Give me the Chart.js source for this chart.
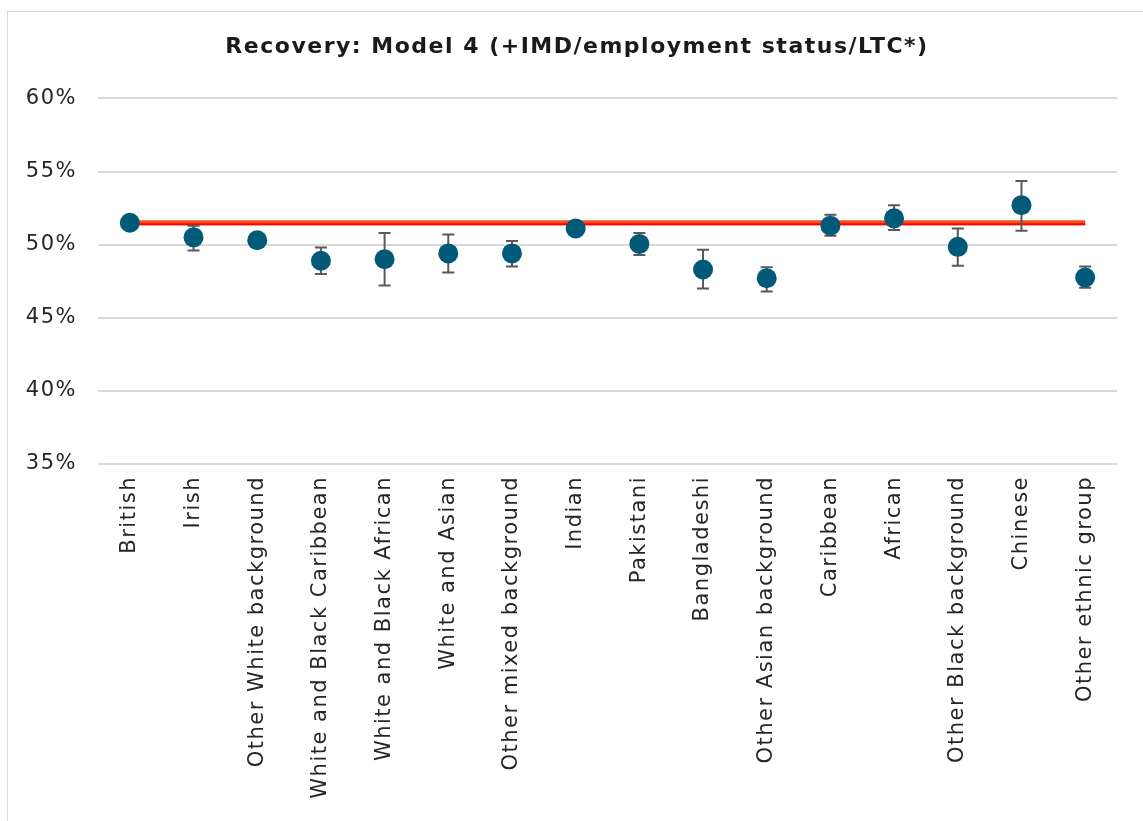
<!DOCTYPE html>
<html>
<head>
<meta charset="utf-8">
<script src="https://cdn.jsdelivr.net/npm/chart.js@4.4.0/dist/chart.umd.min.js"></script>
<style>
  html, body { margin: 0; padding: 0; background: #fff; }
  #frame { position: absolute; left: 7px; top: 11px; width: 1140px; height: 820px; border: 1px solid #d9d9d9; box-sizing: border-box; }
  #wrap { position: absolute; left: 0; top: 0; width: 1143px; height: 821px; }
</style>
</head>
<body>
<div id="frame"></div>
<div id="wrap"><canvas id="chart"></canvas></div>
<script>
// ethnic groups
var groups = ['British', 'Irish', 'Other White background', 'White and Black Caribbean',
  'White and Black African', 'White and Asian', 'Other mixed background', 'Indian',
  'Pakistani', 'Bangladeshi', 'Other Asian background', 'Caribbean', 'African',
  'Other Black background', 'Chinese', 'Other ethnic group'];
// recovery rate %
var recovery = [51.5, 50.5, 50.3, 48.9, 49.0, 49.4, 49.4, 51.1, 50.05, 48.3, 47.7, 51.3, 51.8, 49.85, 52.7, 47.75];
var ciLow  = [51.5, 49.6, 50.3, 48.0, 47.2, 48.1, 48.5, 51.1, 49.3, 47.0, 46.8, 50.6, 51.0, 48.55, 50.95, 47.05];
var ciHigh = [51.5, 51.3, 50.3, 49.8, 50.8, 50.7, 50.25, 51.1, 50.8, 49.65, 48.45, 52.05, 52.7, 51.1, 54.35, 48.5];
// reference line (British rate)
var refOrange = 51.5;
var refRed = 51.4;
var yTicks = [35, 40, 45, 50, 55, 60];

var errorBars = {
  id: 'errorBars',
  beforeDatasetDraw: function(chart, args) {
    if (args.index !== 0) return;
    var ctx = chart.ctx;
    var meta = chart.getDatasetMeta(0);
    var y = chart.scales.y;
    ctx.save();
    ctx.strokeStyle = '#595959';
    ctx.lineWidth = 2;
    meta.data.forEach(function(pt, i) {
      var top = y.getPixelForValue(ciHigh[i]);
      var bot = y.getPixelForValue(ciLow[i]);
      if (Math.abs(bot - top) < 1) return;
      ctx.beginPath();
      ctx.moveTo(pt.x, top); ctx.lineTo(pt.x, bot);
      ctx.moveTo(pt.x - 6, top); ctx.lineTo(pt.x + 6, top);
      ctx.moveTo(pt.x - 6, bot); ctx.lineTo(pt.x + 6, bot);
      ctx.stroke();
    });
    ctx.restore();
  }
};

// wider lettering, closer to the original's font
var spacing = {
  id: 'spacing',
  beforeDraw: function(chart) { chart.ctx.letterSpacing = '1.5px'; },
  afterDraw: function(chart) { chart.ctx.letterSpacing = '0px'; }
};

var font = 'DejaVu Sans';

new Chart(document.getElementById('chart'), {
  type: 'line',
  data: {
    labels: groups,
    datasets: [
      {
        data: recovery,
        showLine: false,
        pointRadius: 10,
        pointHoverRadius: 10,
        pointBackgroundColor: '#005a78',
        pointBorderColor: '#005a78',
        pointBorderWidth: 0
      },
      {
        data: groups.map(function() { return refRed; }),
        borderColor: '#ff0000',
        borderWidth: 2,
        pointRadius: 0
      },
      {
        data: groups.map(function() { return refOrange; }),
        borderColor: '#f4511e',
        borderWidth: 5,
        pointRadius: 0
      }
    ]
  },
  options: {
    responsive: true,
    maintainAspectRatio: false,
    animation: false,
    layout: { padding: { left: 11, right: 0, top: 0, bottom: 0 } },
    plugins: {
      legend: { display: false },
      tooltip: { enabled: false },
      title: {
        display: true,
        text: 'Recovery: Model 4 (+IMD/employment status/LTC*)',
        color: '#1a1a1a',
        font: { family: font, size: 22, weight: 'bold' },
        padding: { top: 34, bottom: 38 }
      }
    },
    scales: {
      x: {
        offset: true,
        grid: { display: false, drawTicks: false },
        border: { display: false },
        afterFit: function(axis) { axis.height = 357; },
        ticks: {
          autoSkip: false,
          minRotation: 90,
          maxRotation: 90,
          padding: 12,
          color: '#262626',
          font: { family: font, size: 21 }
        }
      },
      y: {
        min: 35,
        max: 60,
        afterFit: function(axis) { axis.width = 87; },
        afterBuildTicks: function(axis) {
          axis.ticks = yTicks.map(function(v) { return { value: v }; });
        },
        grid: { color: '#d9d9d9', lineWidth: 2, drawTicks: false },
        border: { display: false },
        ticks: {
          padding: 21,
          color: '#262626',
          font: { family: font, size: 21 },
          callback: function(v) { return v + '%'; }
        }
      },
      // empty right-hand margin
      gap: {
        type: 'linear',
        position: 'right',
        grid: { display: false, drawTicks: false },
        border: { display: false },
        ticks: { display: false },
        afterFit: function(axis) { axis.width = 26; }
      }
    }
  },
  plugins: [errorBars, spacing]
});
</script>
</body>
</html>
